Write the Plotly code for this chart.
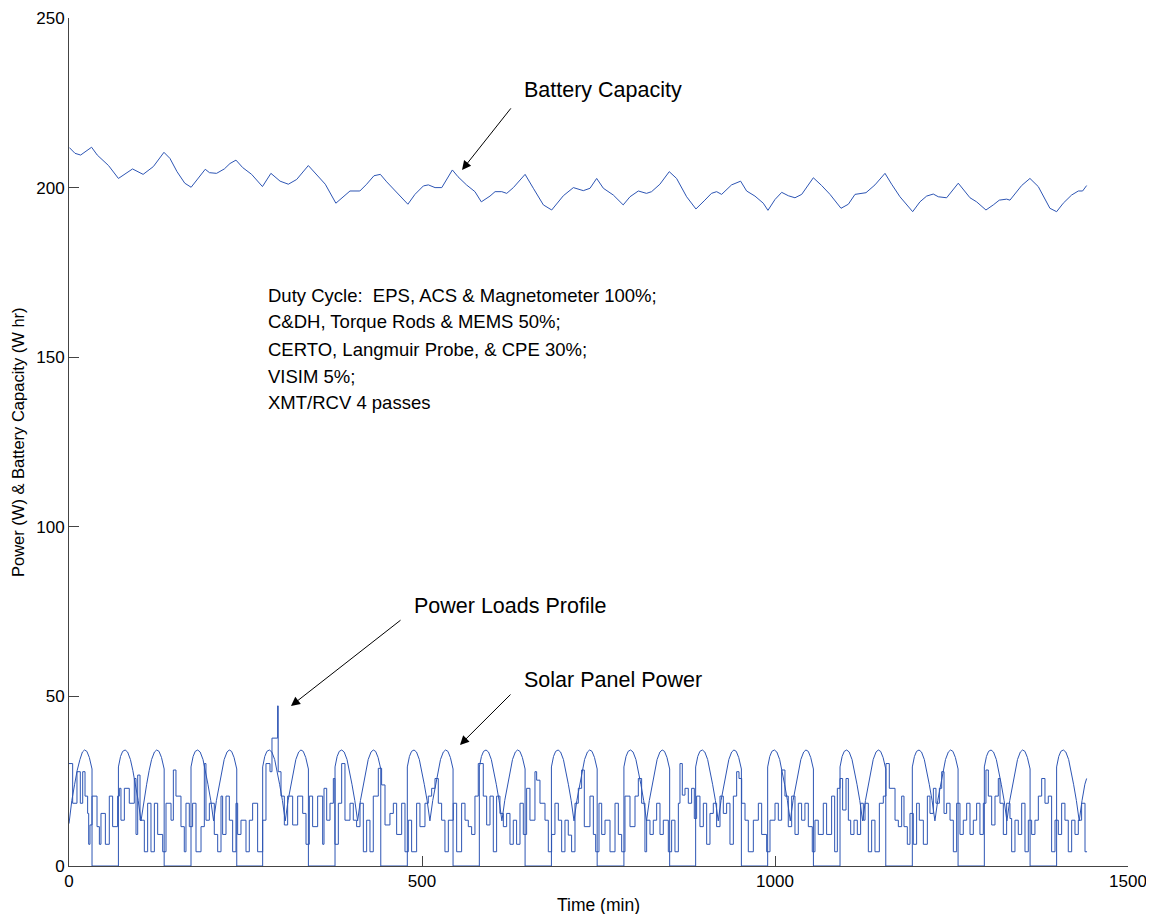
import plotly.graph_objects as go

# ---------------- data ----------------
# Battery capacity (W hr) vs time (min)
battery_t = [0.5, 8.5, 16.5, 32, 40, 56, 70, 82, 90, 105, 119.5, 134.5, 143, 153, 164, 173,
             183, 193, 199, 209, 220, 228, 236.5, 246, 258.7, 274, 286, 299, 310.7, 322.5,
             339, 351, 363, 378, 388.5, 398, 412, 421.6, 432, 441, 450, 466, 480, 490,
             502, 509, 518.5, 528, 543, 551, 563, 575, 584, 596.3, 603.5, 613, 620, 629.4,
             646, 657.7, 671.9, 683.7, 700.2, 714.4, 728.5, 738, 747.4, 756.9, 771, 785,
             794.6, 806.4, 818, 825.2, 837, 850.2, 860.6, 874.8, 888, 900.7, 910, 917.3,
             924.4, 938.5, 951.3, 959.8, 971.6, 983.4, 990, 1000, 1009.5, 1018.9, 1028.3,
             1037.8, 1054.3, 1066.1, 1077.9, 1093.5, 1103.9, 1113.3, 1128.9, 1141.6,
             1155.8, 1165.2, 1177, 1195, 1205.3, 1214.8, 1224.2, 1231.3, 1243.1, 1259.6,
             1276.2, 1285.6, 1298.8, 1309.2, 1317.7, 1328.1, 1332.8, 1349.3, 1361.1,
             1372.9, 1389.4, 1398.9, 1408.3, 1420.1, 1429.6, 1435.7, 1441.4]
battery_w = [211.8, 210.1, 209.6, 211.9, 209.6, 206.5, 202.7, 204.5, 205.5, 203.9, 206.2, 210.4,
             208.6, 204.7, 201.3, 200.1, 202.7, 205.4, 204.4, 204.2, 205.5, 207.1, 208.1,
             205.9, 203.9, 200.3, 204.2, 201.9, 201.0, 202.4, 206.5, 203.7, 201.0, 195.4,
             197.3, 199.0, 199.0, 201.0, 203.5, 203.9, 201.7, 198.3, 195.1, 198.0,
             200.5, 200.8, 200.0, 200.0, 205.2, 203.2, 200.8, 198.8, 195.8, 197.5, 198.8,
             198.8, 198.3, 200.0, 203.9, 199.8, 194.9, 193.4, 197.6, 200.0, 199.1, 199.8,
             202.7, 199.8, 197.8, 194.9, 197.3, 199.0, 198.3, 198.8, 201.0, 204.7, 202.7,
             197.3, 193.7, 196.3, 198.3, 198.8, 198.0, 200.8, 201.9, 199.0, 197.5, 195.4,
             193.3, 196.5, 198.6, 197.6, 197.0, 198.0, 202.9, 200.6, 198.0, 193.9, 195.1,
             198.0, 198.5, 200.8, 204.2, 201.0, 197.3, 192.9, 195.8, 197.5, 198.1, 197.3,
             197.0, 201.3, 197.0, 195.8, 193.4, 194.9, 196.3, 196.6, 196.3, 200.6, 202.7,
             200.3, 193.9, 192.9, 195.4, 197.8, 199.0, 199.0, 200.6]

# Solar panel power: start of each sunlit period (min) and the shape of one sunlit pass
sunlit_start = [70, 172.8, 274.3, 376.8, 479.2, 581.2, 683.3, 786, 887.6, 989.6,
                1092.1, 1194.5, 1296.5]
pass_offset = [0, 0, 3, 6, 9.5, 13, 17, 20.5, 24, 28, 32, 36, 40, 43.5, 47, 51, 54.2,
               57.5, 61, 64.8, 64.8]
pass_w = [0, 29.2, 32.3, 33.8, 34.2, 33.6, 31.4, 28.1, 24.1, 19.3, 13.3, 19.3, 24.1,
          28.1, 31.4, 33.6, 34.2, 33.8, 32.0, 28.6, 0]
solar_first_t = [0, 4, 8, 11.5, 15.5, 19, 22, 25.3, 28.8, 32.6, 32.6]
solar_first_w = [12.5, 19.3, 24.1, 28.1, 31.4, 33.6, 34.2, 33.8, 32.0, 28.6, 0]
solar_last_t = [1398.9, 1398.9, 1401.9, 1404.9, 1408.4, 1411.9, 1415.9, 1419.4, 1422.9,
                1426.9, 1430.9, 1434.9, 1438.9, 1441.4]
solar_last_w = [0, 29.2, 32.3, 33.8, 34.2, 33.6, 31.4, 28.1, 24.1, 19.3, 13.3, 19.3,
                24.1, 25.8]

# Power loads profile (step changes): time of change (min) and load (W)
load_t = [0, 5.2, 11.3, 16.0, 19.4, 22.7, 26.4, 27.9, 29.7, 32.6, 39.7, 43.0, 45.3, 51.5,
          57.1, 61.8, 68.9, 71.3, 73.6, 78.4, 85.4, 92.5, 94.9, 97.3, 100.6, 106.7, 111.4,
          116.1, 120.9, 125.6, 132.7, 137.4, 144.5, 147.8, 151.5, 158.6, 163.3, 165.7,
          170.4, 175.1, 179.9, 187.0, 191.7, 194.0, 198.8, 205.8, 210.6, 215.3, 217.6,
          222.4, 227.1, 231.8, 236.5, 238.9, 243.6, 250.7, 255.4, 260.1, 267.2, 274.3,
          279.0, 284.7, 287.5, 295.5, 296.3, 300.3, 305.0, 309.7, 316.8, 323.9, 331.0,
          335.7, 340.4, 345.1, 352.2, 355.5, 359.3,
          361.2, 365.0, 369.7, 374.4, 376.7, 381.5, 386.2, 390.9, 398.0, 402.7, 407.4,
          412.2, 416.9, 421.6, 426.3, 431.0, 438.1, 442.8, 447.6, 454.6, 459.4, 464.1,
          471.2, 475.9, 480.6, 485.3, 492.4, 497.1, 504.2, 508.9, 513.7, 518.4, 523.1,
          527.8, 532.5, 537.3, 544.3, 549.1, 556.1, 560.9, 565.6, 570.3, 575.0, 579.7,
          586.8, 591.6, 596.3, 601.0, 605.7, 610.4, 615.2, 619.9, 624.6, 629.3, 634.0,
          638.8, 643.5, 648.2, 652.9, 660.0, 662.4, 667.1, 674.2, 678.9, 683.6, 688.3,
          693.1, 697.8, 702.5, 707.2, 711.9, 716.7,
          721.4, 726.1, 729.9, 737.9, 742.7, 746.0, 750.7, 754.5, 759.2, 766.3, 773.4,
          778.1, 782.8, 787.5, 794.6, 801.7, 806.4, 811.1, 815.8, 818.2, 822.9, 827.6,
          832.4, 837.1, 841.8, 848.9, 853.6, 858.3, 863.1, 865.4, 868.7, 872.5, 877.2,
          881.9, 885.7, 889.0, 893.7, 898.5, 903.2, 907.9, 912.6, 917.3, 922.1, 926.8,
          931.5, 936.2, 941.0, 945.7, 949.0, 952.8, 957.5, 962.2, 969.3, 976.4, 981.1,
          988.2, 992.9, 1000.0, 1004.7, 1009.4, 1014.1, 1018.8, 1023.6, 1028.3, 1033.0,
          1037.7, 1042.4, 1047.2, 1052.8, 1056.6, 1061.3, 1068.4, 1073.1, 1080.2,
          1084.5, 1088.3, 1092.1, 1095.8, 1100.6, 1103.9, 1107.2, 1111.9, 1116.6, 1121.3,
          1125.1, 1127.5, 1132.2, 1136.9, 1141.6, 1147.8, 1153.4, 1157.2, 1161.9, 1170.0,
          1174.7, 1179.4, 1182.7, 1187.4, 1191.2, 1195.9, 1200.6, 1204.4, 1210.1, 1215.8,
          1219.5, 1224.3, 1228.0, 1232.8, 1236.1, 1239.4, 1243.1, 1247.9, 1252.6, 1257.3,
          1262.0, 1266.7, 1271.5, 1276.2, 1280.9, 1285.6, 1290.3, 1295.1, 1298.8, 1302.2,
          1306.9, 1311.6, 1316.3, 1318.7, 1323.4, 1328.1, 1332.8, 1335.2, 1339.9, 1344.6,
          1349.4, 1354.1, 1358.8, 1363.5, 1368.2, 1373.0, 1377.7, 1382.4, 1387.1, 1391.8,
          1396.6, 1401.3, 1406.0, 1410.7, 1415.4, 1420.2, 1424.9, 1429.6, 1434.3, 1439.1,
          1442.0]
load_w = [30.2, 18.5, 27.8, 18.5, 27.8, 20.6, 15.5, 6.4, 12.1, 20.6, 11.6, 6.4, 15.5, 6.4,
          20.6, 11.6, 20.6, 22.9, 13.5, 22.9, 18.5, 25.8, 9.3, 26.8, 13.5, 4.2, 18.5,
          4.2, 18.5, 9.3, 4.2, 18.5, 13.5, 28.3, 20.6, 11.6, 4.2, 18.5,
          11.6, 18.5, 4.2, 11.6, 30.2, 13.5, 18.5, 9.3, 4.2, 20.6, 9.3,
          20.6, 13.5, 4.2, 18.5, 9.3, 13.5, 4.2, 13.5, 18.5, 4.2, 13.5,
          30.2, 27.8, 37.7, 47.2, 27.8, 20.6, 12.1, 20.6, 12.1, 20.6, 15.5,
          6.4, 20.6, 11.6, 20.6, 20.6, 6.4,
          22.9, 13.5, 18.5, 25.8, 6.4, 18.5, 30.2, 13.5, 18.5, 13.5, 11.6,
          18.5, 4.2, 13.5, 4.2, 20.6, 28.8, 23.9, 12.1, 15.5, 18.5, 9.3,
          18.5, 4.2, 13.5, 4.2, 18.5, 11.6, 18.5, 20.6, 22.9, 25.8, 18.5,
          13.5, 4.2, 13.5, 18.5, 4.2, 18.5, 13.5, 11.6, 9.3, 20.6, 30.2,
          20.6, 12.1, 20.6, 4.2, 20.6, 15.5, 11.6, 15.5, 6.4, 13.5, 6.4,
          18.5, 9.3, 22.9, 13.5, 27.8, 25.3, 18.5, 13.5, 4.2, 9.3, 18.5,
          13.5, 4.2, 13.5, 9.1, 4.2, 18.5,
          22.9, 28.3, 11.6, 20.6, 9.3, 4.2, 18.5, 9.3, 13.5, 4.2, 18.5,
          9.3, 4.2, 20.6, 11.6, 20.6, 25.8, 18.5, 4.2, 13.5, 9.3, 13.5,
          18.5, 9.3, 13.5, 4.2, 13.5, 4.2, 18.5, 30.2, 20.9, 22.9, 18.5,
          22.9, 14.0, 20.6, 11.6, 18.5, 6.4, 15.5, 18.5, 11.6, 20.6, 15.5,
          18.5, 6.4, 20.6, 27.8, 25.8, 18.5, 13.5, 4.2, 13.5, 18.5, 9.3,
          4.2, 13.5, 18.5, 13.5, 28.3, 20.6, 11.6, 20.6, 9.3, 18.5,
          13.5, 18.5, 11.6, 4.2, 13.5, 9.3, 18.5, 9.3, 20.6,
          4.2, 22.9, 25.8, 16.5, 25.8, 13.5, 9.3, 13.5, 9.3, 18.5,
          13.5, 18.5, 4.2, 13.5, 4.2, 18.5, 20.6, 30.2, 22.9, 13.5,
          11.6, 20.6, 11.6, 6.4, 15.5, 6.4, 18.5, 13.5, 6.4, 20.6,
          15.5, 22.9, 18.5, 22.9, 27.8, 15.5, 18.5, 13.5, 4.2, 18.5,
          9.3, 13.5, 18.5, 9.3, 13.5, 18.5, 9.3, 18.5, 28.3, 20.6,
          12.1, 20.6, 25.8, 18.5, 9.3, 18.5, 14.0, 4.2, 13.5, 9.3,
          18.5, 4.2, 13.5, 9.3, 13.5, 20.6, 25.8, 18.5, 20.6, 4.2,
          13.5, 9.3, 18.5, 13.5, 4.2, 13.5, 9.3, 13.5, 18.5, 4.2,
          4.2]

x_ticks = [0, 500, 1000, 1500]
y_ticks = [0, 50, 100, 150, 200, 250]

duty_lines = ["Duty Cycle:\u00a0 EPS, ACS & Magnetometer 100%;",
              "C&DH, Torque Rods & MEMS 50%;",
              "CERTO, Langmuir Probe, & CPE 30%;",
              "VISIM 5%;",
              "XMT/RCV 4 passes"]

# ---------------- build solar series from the read pieces ----------------
solar_t = list(solar_first_t)
solar_w = list(solar_first_w)
for s in sunlit_start:
    solar_t += [s + o for o in pass_offset]
    solar_w += list(pass_w)
solar_t += solar_last_t
solar_w += solar_last_w

LINE = "#2d55b4"
FONT = "Liberation Sans, Arial, sans-serif"

fig = go.Figure()
fig.add_trace(go.Scatter(x=load_t, y=load_w, mode="lines", line=dict(color=LINE, width=1, shape="hv"),
                         showlegend=False, hoverinfo="skip"))
fig.add_trace(go.Scatter(x=solar_t, y=solar_w, mode="lines", line=dict(color=LINE, width=1),
                         showlegend=False, hoverinfo="skip"))
fig.add_trace(go.Scatter(x=battery_t, y=battery_w, mode="lines", line=dict(color=LINE, width=1),
                         showlegend=False, hoverinfo="skip"))

ann = []
# arrows: (head_x, head_y, tail_x, tail_y)
arrows = [(556.7, 205.2, 627.5, 223.8),
          (314.4, 47.2, 471.7, 72.8),
          (553.8, 35.7, 627.5, 51.0)]
for hx, hy, tx, ty in arrows:
    ann.append(dict(x=hx, y=hy, ax=tx, ay=ty, xref="x", yref="y", axref="x", ayref="y",
                    showarrow=True, arrowhead=2, arrowsize=1.8, arrowwidth=1, arrowcolor="black", text=""))

labels = [("Battery Capacity", 641.6, 228.8),
          ("Power Loads Profile", 485.8, 76.7),
          ("Solar Panel Power", 641.6, 54.8)]
for txt, x, y in labels:
    ann.append(dict(x=x, y=y, xref="x", yref="y", text=txt, showarrow=False,
                    xanchor="left", yanchor="middle", font=dict(size=21.5, color="black", family=FONT)))

duty_y = [168.3, 160.4, 152.4, 144.4, 136.5]
for txt, y in zip(duty_lines, duty_y):
    ann.append(dict(x=279, y=y, xref="x", yref="y", text=txt, showarrow=False,
                    xanchor="left", yanchor="middle", font=dict(size=18.5, color="black", family=FONT)))

# axis titles placed in pixels relative to the plot area
ann.append(dict(x=0.5, y=0, xref="paper", yref="paper", text="Time (min)", showarrow=False,
                xanchor="center", yanchor="middle", yshift=-39,
                font=dict(size=17.5, color="black", family=FONT)))
ann.append(dict(x=0, y=0.5, xref="paper", yref="paper", text="Power (W) & Battery Capacity (W hr)",
                showarrow=False, textangle=-90, xanchor="center", yanchor="middle", xshift=-51,
                font=dict(size=16.5, color="black", family=FONT)))

fig.update_layout(
    width=1146, height=906,
    margin=dict(l=61, r=26, t=10, b=48),
    paper_bgcolor="white", plot_bgcolor="white",
    font=dict(family=FONT, size=17, color="black"),
    annotations=ann,
    xaxis=dict(range=[0, 1500], tickvals=x_ticks, showgrid=False, zeroline=False,
               showline=True, linecolor="#444", linewidth=1, ticks="inside", ticklen=10,
               tickcolor="#444", tickfont=dict(size=17, family=FONT), automargin=False),
    yaxis=dict(range=[0, 250], tickvals=y_ticks, showgrid=False, zeroline=False,
               showline=True, linecolor="#444", linewidth=1, ticks="inside", ticklen=10,
               tickcolor="#444", tickfont=dict(size=17, family=FONT), automargin=False),
)

fig.write_html("out.html")
